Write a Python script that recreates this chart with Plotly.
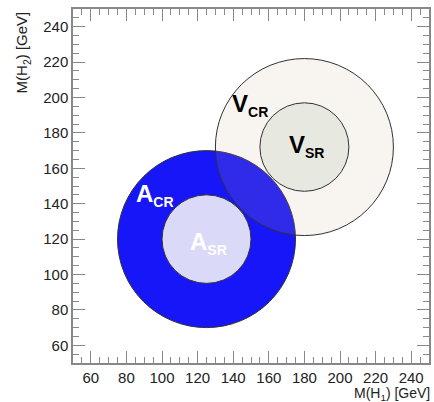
import plotly.graph_objects as go

# Regions (GeV)
region_names = ["A_CR", "A_SR", "V_CR", "V_SR"]
center_m1 = [125, 125, 180, 180]
center_m2 = [120, 120, 172, 172]
radius = [50, 25, 50, 25]
fill_colors = ["rgb(22,22,248)", "rgb(218,218,248)", "rgba(204,174,145,0.14)", "rgb(231,232,224)"]

# Labels
label_main = ["A", "A", "V", "V"]
label_sub = ["CR", "SR", "CR", "SR"]
label_m1 = [95.8, 126, 149.5, 181]
label_m2 = [145, 118, 195.6, 172.8]
label_colors = ["white", "white", "black", "black"]

tick_vals = [60, 80, 100, 120, 140, 160, 180, 200, 220, 240]

FONT = "Liberation Sans, Arial, sans-serif"

fig = go.Figure()
fig.add_trace(go.Scatter(x=[None], y=[None], showlegend=False, hoverinfo="skip"))

shapes = []
for i in range(len(region_names)):
    shapes.append(dict(
        type="circle", xref="x", yref="y",
        x0=center_m1[i] - radius[i], x1=center_m1[i] + radius[i],
        y0=center_m2[i] - radius[i], y1=center_m2[i] + radius[i],
        fillcolor=fill_colors[i],
        line=dict(color="rgb(50,50,50)", width=1),
        layer="above",
    ))

annotations = []
for i in range(len(label_main)):
    annotations.append(dict(
        x=label_m1[i], y=label_m2[i], xref="x", yref="y",
        text=f"<b>{label_main[i]}<sub><span style='font-size:14px'>{label_sub[i]}</span></sub></b>",
        showarrow=False, font=dict(family=FONT, size=24, color=label_colors[i]),
        xanchor="center", yanchor="middle",
    ))

annotations.append(dict(
    x=-0.142, y=1.0, xref="paper", yref="paper", textangle=-90,
    text="M(H<sub>2</sub>) [GeV]", showarrow=False,
    font=dict(family=FONT, size=15, color="#222"),
    xanchor="center", yanchor="top",
))
annotations.append(dict(
    x=1.005, y=-0.112, xref="paper", yref="paper", yshift=-1, borderpad=0,
    text="M(H<sub>1</sub>) [GeV]", showarrow=False,
    font=dict(family=FONT, size=14, color="#222"),
    xanchor="right", yanchor="bottom",
))

axis_common = dict(
    range=[50, 250], tickvals=tick_vals, ticks="inside", ticklen=12, tickwidth=1,
    tickcolor="#888", showline=True, linecolor="#888", linewidth=1.5, mirror="allticks",
    showgrid=False, zeroline=False,
    tickfont=dict(family=FONT, size=15, color="#222"),
    minor=dict(ticks="inside", ticklen=6, dtick=5, tick0=50, tickcolor="#888", showgrid=False),
)

fig.update_layout(
    width=434, height=402,
    margin=dict(l=73, r=3, t=9, b=39),
    paper_bgcolor="white", plot_bgcolor="white",
    xaxis=dict(**axis_common),
    yaxis=dict(**axis_common),
    shapes=shapes, annotations=annotations,
    showlegend=False,
)

fig.write_html("out.html", config={"displayModeBar": False},
               post_script="document.body.style.margin='0';document.body.style.overflow='hidden';")
